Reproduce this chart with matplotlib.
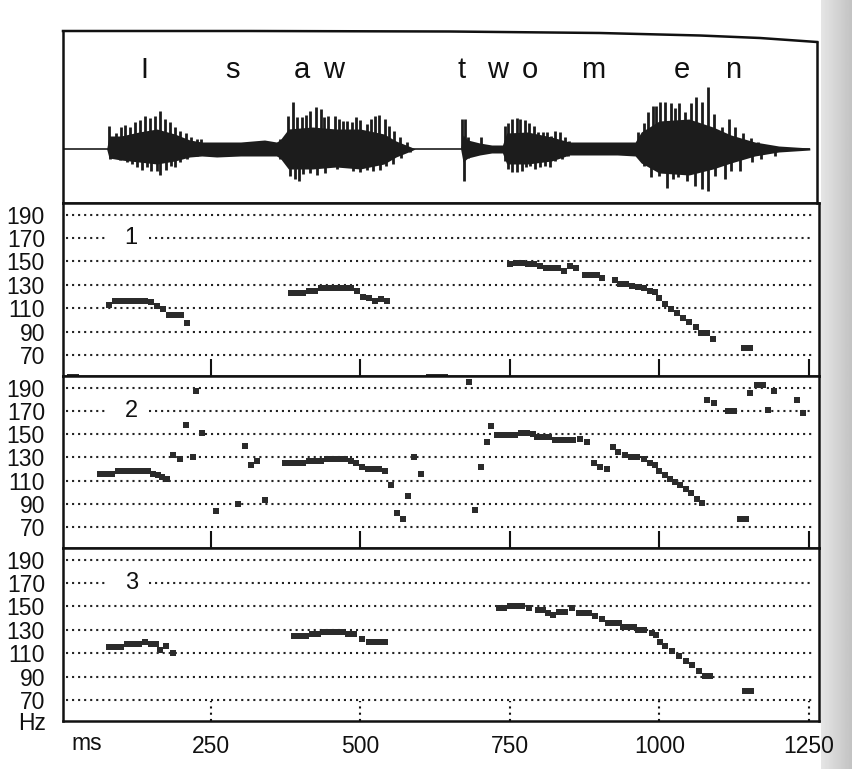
import matplotlib.pyplot as plt
import numpy as np
from matplotlib.lines import Line2D

plt.rcParams['font.family'] = ['Liberation Sans', 'DejaVu Sans']

# ---- waveform: dense body envelope (ms, amplitude, 0 = baseline) ----
env_ms = [76, 80, 100, 130, 160, 190, 215, 235, 260, 300,
          340, 360, 366, 380, 420, 460, 500, 540, 560, 585,
          592, 668, 672, 680, 700, 720, 738, 745, 780, 820,
          850, 870, 900, 930, 960, 970, 1000, 1050, 1090, 1120,
          1160, 1200, 1252]
env_top = [0, 13, 13, 17, 20, 15, 9, 7, 7, 7,
           9, 7, 9, 20, 22, 20, 20, 15, 8, 2,
           0, 0, 14, 9, 6, 4, 4, 16, 17, 12,
           7, 7, 7, 7, 7, 17, 28, 30, 22, 14,
           7, 3, 1]
env_bot = [0, -9, -11, -13, -15, -12, -8, -7, -8, -7,
           -7, -7, -9, -20, -20, -18, -20, -15, -8, -2,
           0, 0, -13, -9, -6, -4, -4, -15, -15, -12,
           -6, -6, -6, -6, -7, -14, -24, -26, -20, -14,
           -7, -3, -1]

# glottal pulse spikes (upward / downward)
up_ms = [80, 91, 100, 107, 115, 123, 132, 140, 149, 157, 166, 174, 182, 190, 199, 208, 217, 227, 234,
         366, 380, 387, 395, 402, 409, 416, 426, 434, 440, 447, 458, 465, 472, 478, 486, 493, 500,
         511, 518, 525, 531, 541, 548, 557, 566, 578,
         670, 675, 681, 702,
         742, 748, 754, 762, 768, 776, 782, 790, 797, 805, 812, 819, 826, 834, 843, 849,
         964, 974, 981, 989, 995, 1001, 1009, 1019, 1026, 1034, 1044, 1053, 1062, 1072, 1082,
         1092, 1105, 1117, 1127, 1140, 1154, 1166, 1177, 1194]
up_amp = [23, 16, 22, 24, 22, 27, 29, 33, 31, 33, 38, 30, 27, 22, 18, 16, 12, 10, 10,
          10, 33, 47, 32, 32, 34, 38, 42, 40, 32, 33, 33, 30, 28, 28, 27, 32, 29,
          25, 30, 33, 34, 30, 23, 18, 12, 7,
          30, 30, 12, 12,
          23, 26, 30, 31, 30, 29, 26, 23, 17, 17, 17, 13, 18, 17, 12, 8,
          17, 26, 37, 43, 43, 47, 47, 46, 41, 46, 37, 46, 52, 47, 62,
          35, 22, 30, 22, 16, 11, 7, 4, 2]
dn_ms = [82, 98, 110, 118, 126, 135, 143, 151, 160, 166, 175, 183, 190, 199, 210, 227,
         366, 383, 391, 397, 405, 416, 427, 441, 461, 477, 488, 500, 511, 522, 533, 544, 555, 569, 583,
         673, 681,
         742, 748, 754, 762, 770, 777, 784, 792, 801, 809, 817, 826, 837, 848,
         974, 987, 999, 1013, 1024, 1032, 1046, 1060, 1072, 1082, 1093, 1110, 1121, 1135, 1155, 1171, 1194]
dn_amp = [-10, -11, -13, -15, -18, -21, -18, -22, -22, -26, -21, -17, -18, -13, -10, -7,
          -10, -27, -30, -32, -25, -24, -26, -24, -20, -17, -22, -23, -21, -22, -21, -17, -15, -9, -3,
          -32, -9,
          -12, -20, -23, -23, -22, -18, -17, -20, -18, -17, -18, -12, -10, -7,
          -17, -28, -27, -39, -30, -28, -32, -37, -40, -42, -27, -30, -22, -22, -13, -10, -7]

letters = ['I', 's', 'a', 'w', 't', 'w', 'o', 'm', 'e', 'n']
letter_ms = [139, 287, 403, 455, 670, 729, 784, 889, 1038, 1124]

# ---- pitch tracks (ms, Hz) ----
p1_ms = [80, 90, 100, 110, 120, 130, 140, 150, 160, 170, 180, 190, 200, 210,
         385, 395, 405, 415, 425, 435, 445, 455, 465, 475, 485, 495, 505, 515, 525, 535, 545,
         750, 760, 770, 780, 790, 800, 810, 820, 830, 840, 850, 860,
         875, 885, 895, 905,
         926, 935, 945, 955, 965, 975, 985, 993, 1000, 1010, 1020, 1029, 1040, 1050, 1061, 1070, 1080, 1090,
         1142, 1152]
p1_hz = [113, 116, 116, 116, 116, 116, 116, 115, 112, 109, 104, 104, 104, 97,
         123, 123, 123, 125, 125, 127, 127, 127, 127, 127, 127, 125, 120, 119, 116, 118, 116,
         148, 149, 149, 148, 148, 146, 144, 144, 144, 142, 146, 144,
         138.5, 138.5, 138.5, 136,
         134, 131, 130.5, 129, 128, 127, 125, 123.5, 118.5, 114, 109, 105.5, 101.5, 98, 93.5, 89, 89, 84,
         76, 76]
p1_floor_ms = [15, 25, 615, 625, 635, 642]

p2_ms = [65, 75, 85, 95, 105, 115, 125, 135, 145, 154, 162, 169, 177,
         187, 199, 209, 220, 226, 236, 258, 296, 307, 318, 328, 340,
         375, 385, 395, 405, 415, 425, 435, 445, 455, 465, 475, 485, 493, 503, 513, 523, 531, 541,
         551, 561, 572, 579, 590, 601, 681, 692, 702, 712, 719,
         728, 738, 748, 758, 768, 778, 788, 795, 805, 815, 825, 835, 845, 855, 868, 879,
         890, 901, 912,
         922, 931, 942, 953, 963, 975, 984, 992, 1000, 1010, 1018, 1027, 1035, 1044, 1053, 1063, 1072,
         1079, 1092, 1115, 1125, 1135, 1145, 1151, 1163, 1173, 1182, 1192, 1230, 1240]
p2_hz = [116, 116, 116, 118, 118, 118, 118, 118, 118, 116, 115, 113, 111.5,
         132, 128.5, 158, 130.5, 187, 151, 84, 90, 140, 123, 127, 93,
         125, 125, 125, 125, 126.5, 126.5, 126.5, 129, 129, 129, 129, 127, 125, 122, 120, 120, 120, 118,
         106.5, 82.5, 77, 97, 130.5, 116, 195, 84.5, 122, 143, 157,
         149, 149, 149, 149, 151, 151, 150, 147.5, 147.5, 147.5, 145, 145, 145, 145, 146, 143.5,
         125.5, 122, 120,
         138.5, 134.5, 132, 130.5, 130.5, 128.5, 125.5, 123, 118, 115, 111.5, 108.5, 106.5, 103, 99, 94, 90.5,
         179.5, 177, 169.5, 169.5, 77, 77, 185.5, 192, 192, 171, 187.5, 179.5, 168]

p3_ms = [80, 90, 100, 110, 120, 130, 140, 150, 158, 166, 176, 187,
         390, 400, 410, 420, 430, 440, 450, 460, 470, 480, 490, 503, 515, 525, 535, 542,
         732, 740, 750, 760, 770, 782, 797, 805, 814, 823, 832, 842, 854, 865, 875, 883, 893, 904,
         915, 925, 932, 940, 950, 957, 965, 975, 987, 995, 1001, 1010, 1022, 1033, 1044, 1055,
         1066, 1076, 1085,
         1144, 1154]
p3_hz = [115, 115, 115, 117.5, 117.5, 117.5, 119.5, 117.5, 117.5, 113, 116, 110.5,
         125, 125, 125, 126.5, 126.5, 128.5, 128.5, 128.5, 128.5, 126.5, 126.5, 122, 119.5, 119.5, 119.5, 119.5,
         149, 149, 150.5, 150.5, 150.5, 149, 147, 147, 144.5, 142.5, 145.5, 145.5, 149, 144, 144, 144, 142, 139,
         135.5, 135.5, 135.5, 132.5, 132.5, 132.5, 130, 130, 127.5, 125.5, 119.5, 116, 111.5, 107.5, 103.5, 100,
         95, 90.5, 90.5,
         78, 78]

hz_ticks = [70, 90, 110, 130, 150, 170, 190]
ms_ticks = [250, 500, 750, 1000, 1250]
ms_labels = ['250', '500', '750', '1000', '1250']

ink = '#1c1c1c'
dots = (0, (1, 1.9))
W, H = 853, 769


def box(top, bottom, left=63, right=819):
    return [left / W, 1 - bottom / H, (right - left) / W, (bottom - top) / H]


fig = plt.figure(figsize=(W / 100, H / 100), dpi=100)

# scanned page edge on the right
bg = fig.add_axes([821 / W, 0, 32 / W, 1])
bg.imshow(np.linspace(0.9, 0.76, 40)[None, :], cmap='gray', vmin=0, vmax=1, aspect='auto')
bg.axis('off')

# ---- waveform panel ----
ax0 = fig.add_axes(box(31, 203, right=817))
ax0.hlines(0, 3, 1252, color=ink, lw=1.2)
ax0.fill_between(env_ms, env_bot, env_top, color=ink, lw=0)
ax0.vlines(up_ms, 0, up_amp, color=ink, lw=2.0)
ax0.vlines(dn_ms, dn_amp, 0, color=ink, lw=2.0)
for s, t in zip(letters, letter_ms):
    ax0.text(t, 71, s, ha='center', va='baseline', fontsize=21, color='#111')
ax0.set_xlim(3, 1264)
ax0.set_ylim(-54, 118)
ax0.set_xticks([])
ax0.set_yticks([])
ax0.spines['top'].set_visible(False)
ax0.spines['right'].set_visible(False)
for sp in ['left', 'bottom']:
    ax0.spines[sp].set_linewidth(1.8)
    ax0.spines[sp].set_color('#111')

# curved top border + right border of the waveform panel (page curvature)
cx = [63, 250, 450, 600, 700, 760, 817]
cy = [31, 31, 31.5, 33, 35.5, 38, 42]
fig.add_artist(Line2D([x / W for x in cx], [1 - y / H for y in cy],
                      transform=fig.transFigure, color='#111', lw=1.8))
fig.add_artist(Line2D([817 / W, 817 / W], [1 - 42 / H, 1 - 203 / H],
                      transform=fig.transFigure, color='#111', lw=1.8))

# ---- pitch panels ----
panels = [
    (box(203, 376), p1_ms, p1_hz, '1'),
    (box(376, 548), p2_ms, p2_hz, '2'),
    (box(548, 721), p3_ms, p3_hz, '3'),
]
axes = []
for i, (rect, xs, ys, tag) in enumerate(panels):
    ax = fig.add_axes(rect)
    axes.append(ax)
    for hz in hz_ticks:
        if hz == 170:
            ax.hlines(hz, 8, 78, color='#222', lw=1.5, linestyles=dots)
            ax.hlines(hz, 146, 1256, color='#222', lw=1.5, linestyles=dots)
        else:
            ax.hlines(hz, 8, 1256, color='#222', lw=1.5, linestyles=dots)
    ax.text(117, 170, tag, ha='center', va='center', fontsize=17, color='#111')
    ax.plot(xs, ys, 's', color='#2b2b2b', ms=4.6, mew=0)
    if i < 2:
        ax.vlines(ms_ticks, 52, 66.5, color='#111', lw=1.5)
    else:
        ax.vlines(ms_ticks, 52, 69, color='#111', lw=1.5, linestyles=(0, (1, 2)))
    ax.set_xlim(3, 1267)
    ax.set_ylim(52, 200)
    ax.set_yticks(hz_ticks)
    ax.set_yticklabels([str(h) for h in hz_ticks], fontsize=16.5, color='#111')
    ax.tick_params(axis='y', length=0, pad=13)
    for sp in ax.spines.values():
        sp.set_linewidth(1.8)
        sp.set_color('#111')
    if i < 2:
        ax.set_xticks([])
    else:
        ax.set_xticks(ms_ticks)
        ax.set_xticklabels(ms_labels, fontsize=16.5, color='#111')
        ax.tick_params(axis='x', length=0, pad=10)

axes[0].plot(p1_floor_ms, [51.5] * len(p1_floor_ms), 's', color='#2b2b2b', ms=4.6, mew=0)

fig.text(46 / W, 1 - 724 / H, 'Hz', ha='right', va='center', fontsize=16.5, color='#111')
fig.text(87 / W, 1 - 744 / H, 'ms', ha='center', va='center', fontsize=16.5, color='#111')

plt.savefig('out.png', dpi=100)
